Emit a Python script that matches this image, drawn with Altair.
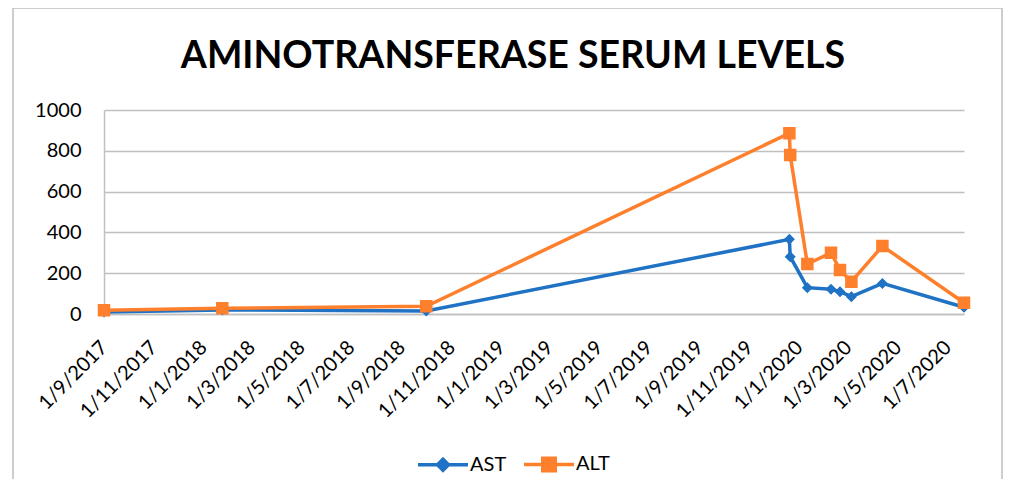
import altair as alt
import pandas as pd

# ---- data ----
series_names = ["AST", "ALT"]
dates = ["2017-09-01", "2018-01-24", "2018-10-01", "2019-12-20", "2019-12-21",
         "2020-01-11", "2020-02-09", "2020-02-20", "2020-03-05", "2020-04-12",
         "2020-07-21"]
ast_values = [10, 20, 15, 366, 281, 129, 121, 109, 85, 150, 33]
alt_values = [18, 28, 38, 886, 779, 245, 300, 216, 158, 333, 55]
y_ticks = [0, 200, 400, 600, 800, 1000]
tick_months = [(2017, 9), (2017, 11), (2018, 1), (2018, 3), (2018, 5), (2018, 7),
               (2018, 9), (2018, 11), (2019, 1), (2019, 3), (2019, 5), (2019, 7),
               (2019, 9), (2019, 11), (2020, 1), (2020, 3), (2020, 5), (2020, 7)]
colors = ["#1f72c4", "#fe7f2c"]
title_text = "AMINOTRANSFERASE SERUM LEVELS"

# legend / marker symbols (line + marker), unit scaled by sqrt(size)/2
shapes = ["M-1,0L1,0M0,-0.22L0.22,0L0,0.22L-0.22,0Z",
          "M-1,0L1,0M-0.25,-0.25L0.25,-0.25L0.25,0.25L-0.25,0.25Z"]

rows = []
for name, vals in zip(series_names, [ast_values, alt_values]):
    for i, (d, v) in enumerate(zip(dates, vals)):
        rows.append({"date": d, "series": name, "value": v, "idx": i})
df = pd.DataFrame(rows)

FONT = "Lato"
GRID = "#c0c0c0"

x_enc = alt.X(
    "date:T",
    scale=alt.Scale(type="utc",
                    domain=[alt.DateTime(year=2017, month=9, date=1, utc=True),
                            alt.DateTime(year=2020, month=7, date=21, utc=True)]),
    axis=alt.Axis(
        values=[alt.DateTime(year=y, month=m, date=1, utc=True) for y, m in tick_months],
        labelExpr="utcFormat(datum.value, '%-d/%-m/%Y')",
        labelAngle=315, labelAlign="right", labelBaseline="middle",
        labelPadding=30, ticks=False, grid=False, domainColor=GRID, domainWidth=1.5,
        labelFont=FONT, labelFontSize=20, labelColor="#000000", title=None,
        labelOverlap=False, labelBound=False, labelFlush=False,
    ),
)
y_enc = alt.Y(
    "value:Q",
    scale=alt.Scale(domain=[0, 1000]),
    axis=alt.Axis(values=y_ticks, format="d", ticks=False, grid=True, gridColor=GRID,
                  gridWidth=1.5, domainColor=GRID, domainWidth=1.5, labelFont=FONT,
                  labelFontSize=20, labelColor="#000000", labelPadding=23, title=None),
)

legend = alt.Legend(
    orient="none", legendX=312, legendY=327, direction="horizontal", title=None,
    symbolSize=2500, symbolStrokeWidth=3.5, labelFont=FONT, labelFontSize=20,
    labelColor="#000000", labelOffset=0, columnPadding=10, padding=0,
)
color_enc = alt.Color("series:N", scale=alt.Scale(domain=series_names, range=colors),
                      legend=legend)

base = alt.Chart(df)

lines = base.mark_line(strokeWidth=3.5).encode(
    x=x_enc, y=y_enc, color=color_enc, order="idx:Q",
)

points = base.mark_point(filled=True, size=2500, strokeWidth=0, opacity=1).encode(
    x="date:T", y="value:Q",
    color=color_enc,
    shape=alt.Shape("series:N", scale=alt.Scale(domain=series_names, range=shapes), legend=legend),
)

one = pd.DataFrame({"label": [title_text]})
title = alt.Chart(one).mark_text(font=FONT, fontSize=37.5, fontWeight="bold", color="#000000",
                                 align="center", baseline="alphabetic").encode(
    text="label:N", x=alt.value(409), y=alt.value(-42))

frame_left = alt.Chart(one).mark_rule(color="#bdbdbd", strokeWidth=1.5).encode(
    x=alt.value(-91), y=alt.value(-102), y2=alt.value(400))
frame_right = alt.Chart(one).mark_rule(color="#bdbdbd", strokeWidth=1.5).encode(
    x=alt.value(898), y=alt.value(-102), y2=alt.value(400))
frame_top = alt.Chart(one).mark_rule(color="#bdbdbd", strokeWidth=1.5).encode(
    x=alt.value(-91), x2=alt.value(898), y=alt.value(-102))

chart = alt.layer(frame_left, frame_right, frame_top, title, lines, points).properties(
    width=860, height=204,
    padding={"left": 96, "top": 102, "right": 39, "bottom": 165},
    autosize="none",
).configure_view(stroke=None)

chart.save("out.html", embed_options={"renderer": "svg", "actions": False})
